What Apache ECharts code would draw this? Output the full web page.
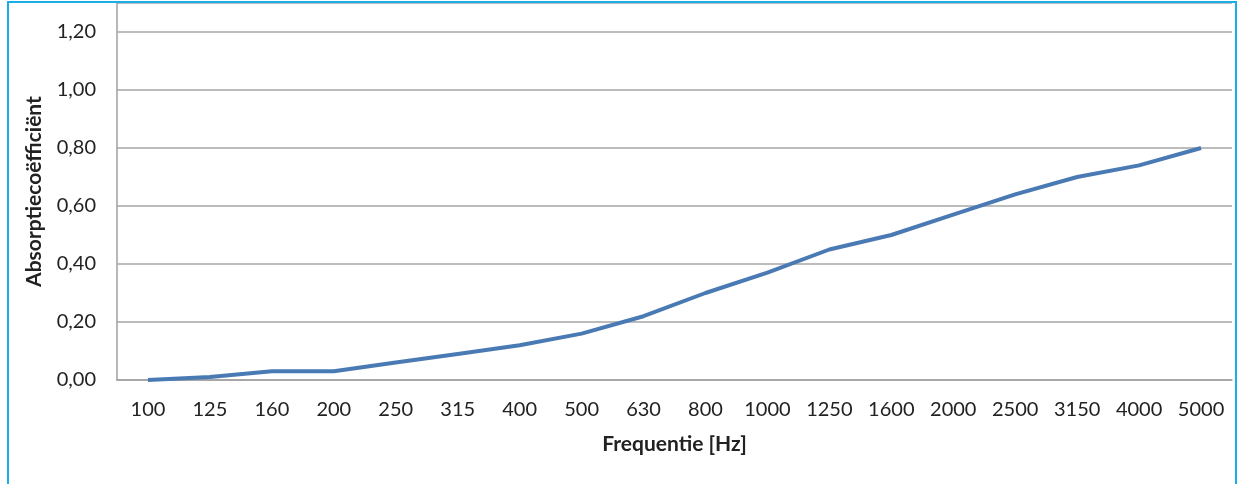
<!DOCTYPE html>
<html>
<head>
<meta charset="utf-8">
<script src="https://cdn.jsdelivr.net/npm/echarts@6/dist/echarts.min.js"></script>
<style>
html,body{margin:0;padding:0;background:#fff;}
#c{width:1239px;height:484px;}
</style>
</head>
<body>
<div id="c"></div>
<script>
const categories = ['100','125','160','200','250','315','400','500','630','800','1000','1250','1600','2000','2500','3150','4000','5000'];
const absorption = [0.00,0.01,0.03,0.03,0.06,0.09,0.12,0.16,0.22,0.30,0.37,0.45,0.50,0.57,0.64,0.70,0.74,0.80];
const yTicks = [0,0.2,0.4,0.6,0.8,1.0,1.2];

const chart = echarts.init(document.getElementById('c'));
chart.setOption({
  backgroundColor:'#ffffff',
  animation:false,
  graphic:[{
    type:'rect', z:100, silent:true,
    shape:{x:8,y:2,width:1228,height:520},
    style:{fill:'none',stroke:'#19aee8',lineWidth:2}
  }],
  grid:{left:117,right:7,top:3,bottom:104,containLabel:false},
  xAxis:{
    type:'category',
    data:categories,
    boundaryGap:true,
    axisLine:{show:true,lineStyle:{color:'#a0a0a0',width:1.5}},
    axisTick:{show:false},
    axisLabel:{color:'#222222',fontFamily:'Lato',fontSize:20,margin:20,interval:0},
    name:'Frequentie [Hz]',
    nameLocation:'middle',
    nameGap:54,
    nameTextStyle:{color:'#222222',fontFamily:'Lato',fontSize:21,fontWeight:'bold'}
  },
  yAxis:{
    type:'value',
    min:0,max:1.3,interval:0.2,
    axisLine:{show:true,lineStyle:{color:'#a0a0a0',width:1.5}},
    axisTick:{show:false},
    splitLine:{show:true,lineStyle:{color:'#a6a6a6',width:1.5}},
    axisLabel:{
      color:'#222222',fontFamily:'Lato',fontSize:20,margin:21,
      formatter:function(v){
        const t = yTicks.find(x=>Math.abs(x-v)<1e-6);
        return t===undefined ? '' : t.toFixed(2).replace('.',',');
      }
    },
    name:'Absorptiecoëfficiënt',
    nameLocation:'middle',
    nameGap:72,
    nameTextStyle:{color:'#222222',fontFamily:'Lato',fontSize:21,fontWeight:'bold'}
  },
  series:[{
    type:'line',
    data:absorption,
    showSymbol:false,
    symbol:'none',
    lineStyle:{color:'#4a7ab4',width:4},
    itemStyle:{color:'#4a7ab4'}
  }]
});
</script>
</body>
</html>
